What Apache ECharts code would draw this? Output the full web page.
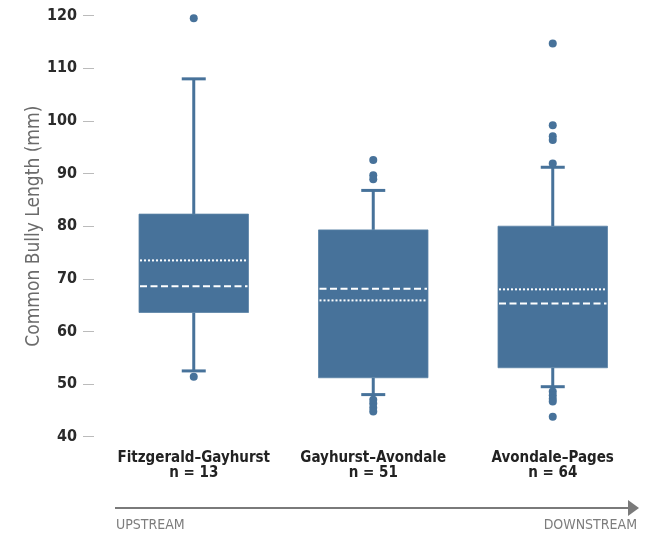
<!DOCTYPE html>
<html>
<head>
<meta charset="utf-8">
<script src="https://cdn.jsdelivr.net/npm/echarts@6/dist/echarts.min.js"></script>
<style>
  html, body { margin: 0; padding: 0; background: #ffffff; }
  #chart { width: 648px; height: 536px; }
</style>
</head>
<body>
<div id="chart"></div>
<script>
// Reach segments, listed upstream to downstream
const reaches = ['Fitzgerald–Gayhurst', 'Gayhurst–Avondale', 'Avondale–Pages'];
const sampleSizes = [13, 51, 64];

// Box statistics per reach (mm)
const whiskerLow  = [52.5, 48.0, 49.5];
const quartile1   = [63.6, 51.2, 53.1];
const medians     = [68.6, 68.1, 65.3];
const quartile3   = [82.3, 79.3, 80.0];
const whiskerHigh = [108.0, 86.8, 91.2];
const means       = [73.5, 65.9, 68.0];

// Outlying fish lengths per reach (mm)
const outliersFG = [119.5, 51.4];
const outliersGA = [92.6, 89.7, 88.9, 47.0, 46.3, 45.5, 44.8];
const outliersAP = [114.7, 99.2, 97.1, 96.4, 91.9, 48.6, 47.9, 47.2, 46.7, 43.8];

const yTicks = { min: 40, max: 120, step: 10 };

const boxColor = '#47729a';
const narrow = "'Liberation Sans Narrow', 'DejaVu Sans Condensed', 'Roboto', sans-serif";

const boxData = reaches.map((_, i) => [
  i, whiskerLow[i], quartile1[i], medians[i], quartile3[i], whiskerHigh[i], means[i]
]);

const outlierData = [];
[outliersFG, outliersGA, outliersAP].forEach((arr, i) => {
  arr.forEach(v => outlierData.push([i, v]));
});

function renderBox(params, api) {
  const i = api.value(0);
  const band = api.size([1, 0])[0];
  const boxW = band * 0.61;
  const capW = 24;
  const pLow = api.coord([i, api.value(1)]);
  const pQ1 = api.coord([i, api.value(2)]);
  const pMed = api.coord([i, api.value(3)]);
  const pQ3 = api.coord([i, api.value(4)]);
  const pHigh = api.coord([i, api.value(5)]);
  const pMean = api.coord([i, api.value(6)]);
  const cx = pQ1[0];
  const x0 = cx - boxW / 2, x1 = cx + boxW / 2;
  const lineStyle = { stroke: boxColor, lineWidth: 3 };
  return {
    type: 'group',
    children: [
      { type: 'line', shape: { x1: cx, y1: pQ1[1], x2: cx, y2: pLow[1] }, style: lineStyle },
      { type: 'line', shape: { x1: cx, y1: pQ3[1], x2: cx, y2: pHigh[1] }, style: lineStyle },
      { type: 'line', shape: { x1: cx - capW / 2, y1: pLow[1], x2: cx + capW / 2, y2: pLow[1] }, style: lineStyle },
      { type: 'line', shape: { x1: cx - capW / 2, y1: pHigh[1], x2: cx + capW / 2, y2: pHigh[1] }, style: lineStyle },
      { type: 'rect', shape: { x: x0, y: pQ3[1], width: boxW, height: pQ1[1] - pQ3[1] },
        style: { fill: boxColor, stroke: '#5b83a6', lineWidth: 0.8 } },
      { type: 'line', shape: { x1: x0 + 1, y1: pMed[1], x2: x1 - 1, y2: pMed[1] },
        style: { stroke: '#ffffff', lineWidth: 2, lineDash: [7, 3.5] } },
      { type: 'line', shape: { x1: x0 + 1, y1: pMean[1], x2: x1 - 1, y2: pMean[1] },
        style: { stroke: '#ffffff', lineWidth: 2, lineDash: [2, 2] } }
    ]
  };
}

const chart = echarts.init(document.getElementById('chart'), null, { renderer: 'canvas' });

chart.setOption({
  backgroundColor: '#ffffff',
  animation: false,
  grid: { left: 104, right: 5.5, top: 15.7, bottom: 99.3, containLabel: false },
  xAxis: {
    type: 'category',
    data: reaches,
    axisLine: { show: false },
    axisTick: { show: false },
    axisLabel: {
      margin: 14,
      interval: 0,
      color: '#222222',
      fontFamily: narrow,
      fontWeight: 'bold',
      fontSize: 15,
      lineHeight: 15,
      formatter: (v, idx) => v + '\nn = ' + sampleSizes[idx]
    }
  },
  yAxis: {
    type: 'value',
    min: yTicks.min,
    max: yTicks.max,
    interval: yTicks.step,
    offset: 10,
    name: 'Common Bully Length (mm)',
    nameLocation: 'middle',
    nameGap: 50,
    nameMoveOverlap: false,
    nameTextStyle: { color: '#6b6b6b', fontFamily: narrow, fontSize: 19 },
    axisLine: { show: false },
    axisTick: { show: true, length: 11, lineStyle: { color: '#bbbbbb', width: 1 } },
    splitLine: { show: false },
    axisLabel: {
      margin: 17,
      color: '#2b2b2b',
      fontFamily: narrow,
      fontWeight: 'bold',
      fontSize: 16
    }
  },
  series: [
    {
      type: 'custom',
      renderItem: renderBox,
      data: boxData,
      encode: { x: 0, y: [1, 2, 3, 4, 5, 6] },
      z: 2
    },
    {
      type: 'scatter',
      data: outlierData,
      symbol: 'circle',
      symbolSize: 8,
      itemStyle: { color: boxColor, opacity: 1 },
      z: 3
    }
  ],
  graphic: [
    {
      type: 'line',
      shape: { x1: 115, y1: 508, x2: 630, y2: 508 },
      style: { stroke: '#7a7a7a', lineWidth: 2 }
    },
    {
      type: 'polygon',
      shape: { points: [[628, 500], [639, 508], [628, 516]] },
      style: { fill: '#7a7a7a' }
    },
    {
      type: 'text',
      left: 116,
      top: 518,
      style: { text: 'UPSTREAM', fill: '#7d7d7d', font: '14px ' + narrow }
    },
    {
      type: 'text',
      right: 11,
      top: 518,
      style: { text: 'DOWNSTREAM', fill: '#7d7d7d', font: '14px ' + narrow }
    }
  ]
});
</script>
</body>
</html>
